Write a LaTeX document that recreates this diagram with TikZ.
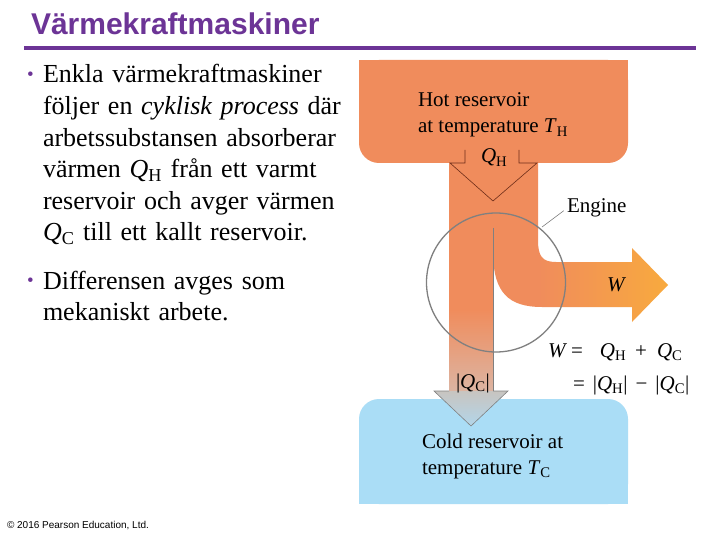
\documentclass[tikz,border=0pt]{standalone}
\usepackage{fontspec}
\setmainfont{Liberation Serif}
\newfontfamily\arialfont{Liberation Sans}
\definecolor{titlepurple}{RGB}{108,52,150}
\definecolor{hotc}{RGB}{240,140,92}
\definecolor{workc}{RGB}{248,170,62}
\definecolor{coldc}{RGB}{170,221,246}
\definecolor{tanc}{RGB}{220,180,162}
\definecolor{grayarrow}{RGB}{200,196,192}
\definecolor{arrowblue}{RGB}{178,214,234}
\definecolor{linegray}{RGB}{128,128,128}
\definecolor{brownline}{RGB}{110,45,25}
\pgfdeclarehorizontalshading{workshade}{100bp}{color(0bp)=(hotc); color(38bp)=(hotc); color(75bp)=(workc); color(100bp)=(workc)}
\begin{document}
\begin{tikzpicture}[x=1pt,y=-1pt,
  every node/.style={inner sep=0pt, outer sep=0pt},
  bodytext/.style={anchor=base west, text width=330pt, align=left, font=\fontsize{26}{31.6}\selectfont},
  bulletmark/.style={anchor=base, text=titlepurple, font=\fontsize{19}{22}\selectfont},
  dtext/.style={anchor=base west, font=\fontsize{21}{26}\selectfont},
  thinline/.style={linegray, line width=0.7pt}]
\useasboundingbox (0,0) rectangle (720,540);
\fill[white] (0,0) rectangle (720,540);

% title
\node[anchor=base west, text=titlepurple, font=\arialfont\bfseries\fontsize{30}{36}\selectfont] (title) at (31,35) {Värmekraftmaskiner};
\draw[titlepurple, line width=4pt] (24,48) -- (696,48);

% bullets
\node[bulletmark] (b1) at (30.5,80.5) {•};
\node[bodytext] (t1) at (43,83) {Enkla värmekraftmaskiner\\följer en \textit{cyklisk process} där\\arbetssubstansen absorberar\\värmen \textit{Q}\textsubscript{H} från ett varmt\\reservoir och avger värmen\\\textit{Q}\textsubscript{C} till ett kallt reservoir.};
\node[bulletmark] (b2) at (30.5,286.5) {•};
\node[bodytext] (t2) at (43,289) {Differensen avges som\\mekaniskt arbete.};

% cold reservoir
\fill[coldc, rounded corners=20pt] (359,399) rectangle (628,504);
\fill[coldc] (359,450) rectangle (628,504);
% hot reservoir
\fill[hotc, rounded corners=20pt] (359,60) rectangle (628,163);
\fill[hotc] (359,60) rectangle (628,110);
% left stem
\fill[hotc] (449,162) rectangle (493.4,310);
\shade[top color=hotc, bottom color=tanc] (449,309.5) rectangle (493.4,391);
% work branch
\shade[shading=workshade] (493,162) -- (538,162) -- (538,240)
  .. controls (538,256) and (542,262) .. (556,262) -- (632,262) -- (632,248)
  -- (668,285) -- (632,322) -- (632,307) -- (542,307)
  .. controls (508,307) and (494,292) .. (493,255) -- cycle;
% exhaust arrowhead
\shade[top color=grayarrow, bottom color=arrowblue] (434,391) -- (508,391) -- (471,426) -- cycle;
\draw[linegray, line width=0.6pt] (449,391) -- (434,391) -- (471,426) -- (508,391) -- (493,391);

% Q_H arrow outline
\draw[brownline, line width=0.6pt] (465,150) -- (465,163) -- (450,163) -- (493,201) -- (537,163) -- (519,163) -- (519,150);
% split line
\draw[thinline] (493,228) -- (493,391);
% engine circle
\draw[linegray, line width=1.3pt] (496,282.5) circle[radius=69.5pt];

% labels
\node[dtext] (hot1) at (418,107) {Hot reservoir};
\node[dtext] (hot2) at (418,133) {at temperature \textit{T}\textsubscript{H}};
\node[dtext] (qh) at (481,163) {\textit{Q}\textsubscript{H}};
\node[dtext] (englbl) at (567,213) {Engine};
\coordinate (engpt) at (542,227);
\draw[thinline, line width=0.6pt, shorten >=4pt] (engpt) -- (englbl.west);
\node[dtext] (wlbl) at (607,291) {\textit{W}};
\node[dtext] (eq1) at (548,357) {\textit{W}\hspace{4pt}=\hspace{17pt}\textit{Q}\textsubscript{H}\hspace{9pt}+\hspace{10pt}\textit{Q}\textsubscript{C}};
\node[dtext] (eq2) at (573,390) {=\hspace{8pt}|\textit{Q}\textsubscript{H}|\hspace{8pt}−\hspace{8pt}|\textit{Q}\textsubscript{C}|};
\node[dtext] (qc) at (456,388) {|\textit{Q}\textsubscript{C}|};
\node[dtext] (cold1) at (422,448) {Cold reservoir at};
\node[dtext] (cold2) at (422,474) {temperature \textit{T}\textsubscript{C}};

% footer
\node[anchor=base west, font=\arialfont\fontsize{10}{12}\selectfont] (foot) at (7,528) {© 2016 Pearson Education, Ltd.};
\end{tikzpicture}
\end{document}
